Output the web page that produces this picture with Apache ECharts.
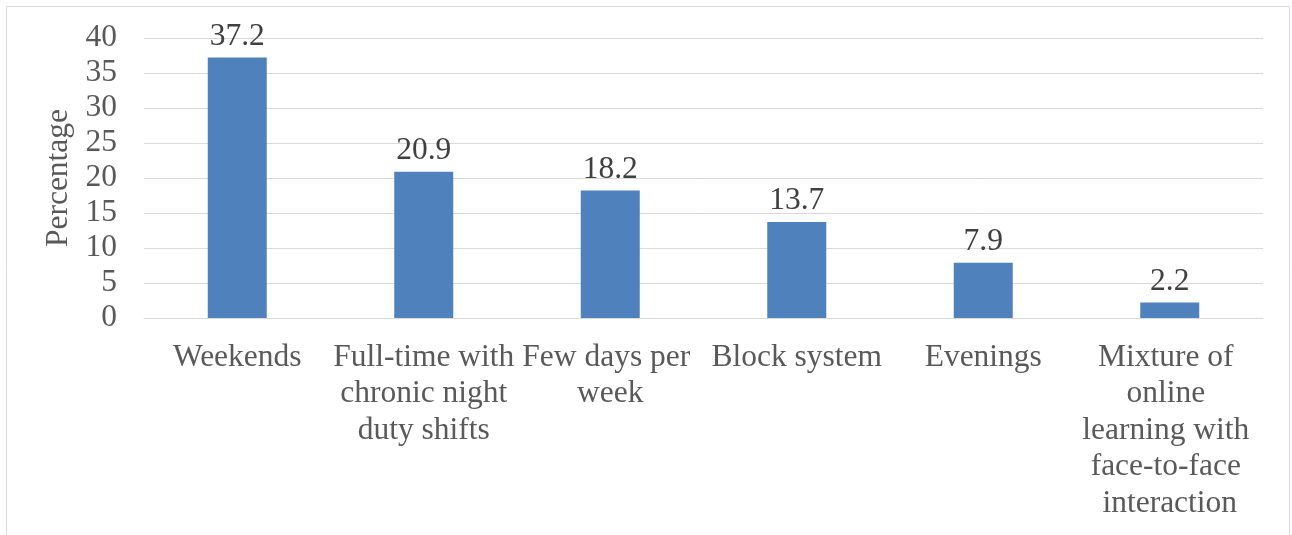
<!DOCTYPE html>
<html>
<head>
<meta charset="utf-8">
<script src="https://cdn.jsdelivr.net/npm/echarts@6/dist/echarts.min.js"></script>
<style>
  html, body { margin: 0; padding: 0; background: #fff; }
  #chart { width: 1292px; height: 535px; }
</style>
</head>
<body>
<div id="chart"></div>
<script>
// data
var categories = ["Weekends", "Full-time with chronic night duty shifts", "Few days per week", "Block system", "Evenings", "Mixture of online learning with face-to-face interaction"];
var percentages = [37.2, 20.9, 18.2, 13.7, 7.9, 2.2];
var yTicks = [0, 40, 5]; // min, max, step

var font = "'Liberation Serif', 'Times New Roman', serif";
var dom = document.getElementById("chart");
var myChart = echarts.init(dom);
var option = {
  animation: false,
  graphic: [{
    type: "rect",
    shape: { x: 6.5, y: 6.5, width: 1283, height: 600 },
    style: { fill: "none", stroke: "#d9d9d9", lineWidth: 1 },
    silent: true
  }],
  grid: { left: 144, right: 29, top: 38, bottom: 217 },
  xAxis: {
    type: "category",
    data: categories,
    axisLine: { lineStyle: { color: "#d9d9d9" } },
    axisTick: { show: false },
    axisLabel: {
      interval: 0,
      color: "#595959",
      fontFamily: font,
      fontSize: 31.5,
      lineHeight: 36.5,
      margin: 21,
      width: 185,
      overflow: "break"
    }
  },
  yAxis: {
    type: "value",
    min: yTicks[0],
    max: yTicks[1],
    interval: yTicks[2],
    name: "Percentage",
    nameLocation: "middle",
    nameGap: 66,
    nameTextStyle: { color: "#595959", fontFamily: font, fontSize: 31.5 },
    axisLine: { show: false },
    axisTick: { show: false },
    splitLine: { lineStyle: { color: "#d9d9d9" } },
    axisLabel: { color: "#595959", fontFamily: font, fontSize: 31.5, margin: 27 }
  },
  series: [{
    type: "bar",
    data: percentages,
    barWidth: 59,
    itemStyle: { color: "#4f81bd" },
    label: {
      show: true,
      position: "top",
      distance: 5,
      color: "#404040",
      fontFamily: font,
      fontSize: 31.5
    }
  }]
};
if (option && typeof option === "object") {
  myChart.setOption(option);
}
</script>
</body>
</html>
